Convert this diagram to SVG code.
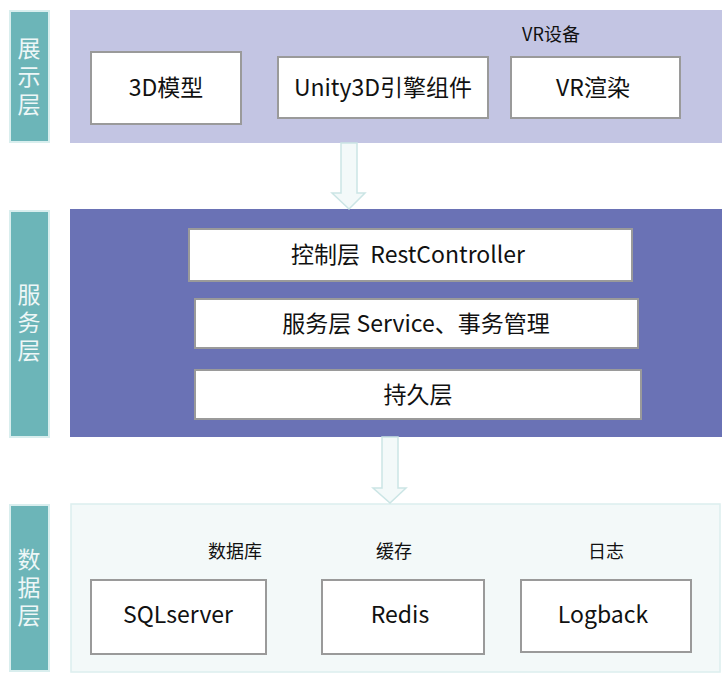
<svg xmlns="http://www.w3.org/2000/svg" width="722" height="679" viewBox="0 0 722 679">
<style>
  text { font-family: "Noto Sans CJK SC", "Noto Sans", sans-serif; }
  .side rect { fill: #6CB5B8; stroke: #D9EEEE; stroke-width: 2; }
  .side text { fill: #EEF7F7; font-size: 23px; text-anchor: middle; writing-mode: vertical-rl; letter-spacing: 5px; }
  .box rect { fill: #FFFFFF; stroke: #9A9A9A; stroke-width: 2; }
  .box text { fill: #111; font-size: 23px; text-anchor: middle; }
  .lbl { fill: #111; font-size: 18px; text-anchor: middle; }
  .arrow { fill: #F3F9F9; stroke: #CBE5E5; stroke-width: 1.5; }
</style>

<!-- layer panels -->
<g id="panel-display"><rect x="70" y="10" width="652" height="133" fill="#C3C5E3"/></g>
<g id="panel-service"><rect x="70" y="209" width="652" height="228" fill="#6A72B5"/></g>
<g id="panel-data"><rect x="71" y="504" width="649" height="168" fill="#F3F9F9" stroke="#DCEEEE" stroke-width="1.5"/></g>

<!-- side labels -->
<g id="side-display" class="side"><rect x="10" y="11" width="39" height="131"/>
  <text x="29" y="79">展示层</text></g>
<g id="side-service" class="side"><rect x="10" y="211" width="39" height="226"/>
  <text x="29" y="325">服务层</text></g>
<g id="side-data" class="side"><rect x="10" y="505" width="39" height="166"/>
  <text x="29" y="590">数据层</text></g>

<!-- display layer -->
<text class="lbl" x="551" y="41">VR设备</text>
<g id="n-3d" class="box"><rect x="91" y="52" width="150" height="72"/><text x="166" y="96">3D模型</text></g>
<g id="n-unity" class="box"><rect x="278" y="57" width="210" height="61"/><text x="383" y="96">Unity3D引擎组件</text></g>
<g id="n-vr" class="box"><rect x="511" y="57" width="169" height="61"/><text x="593" y="96">VR渲染</text></g>

<!-- service layer -->
<g id="n-ctrl" class="box"><rect x="189" y="229" width="443" height="52"/><text x="408" y="263" xml:space="preserve">控制层  RestController</text></g>
<g id="n-svc" class="box"><rect x="195" y="299" width="443" height="49"/><text x="416" y="332">服务层 Service、事务管理</text></g>
<g id="n-dao" class="box"><rect x="195" y="370" width="446" height="49"/><text x="418" y="403">持久层</text></g>

<!-- data layer -->
<text class="lbl" x="235" y="558">数据库</text>
<text class="lbl" x="394" y="558">缓存</text>
<text class="lbl" x="606" y="558">日志</text>
<g id="n-sql" class="box"><rect x="91" y="580" width="175" height="74"/><text x="178" y="623">SQLserver</text></g>
<g id="n-redis" class="box"><rect x="322" y="580" width="162" height="74"/><text x="400" y="623">Redis</text></g>
<g id="n-log" class="box"><rect x="521" y="580" width="170" height="72"/><text x="603" y="623">Logback</text></g>

<!-- connectors -->
<g id="connectors">
  <path class="arrow" d="M341,143 L357,143 L357,193 L365,193 L349,209 L332,193 L341,193 Z"/>
  <path class="arrow" d="M382,437 L398,437 L398,488 L406,488 L390,503 L373,488 L382,488 Z"/>
</g>
</svg>
